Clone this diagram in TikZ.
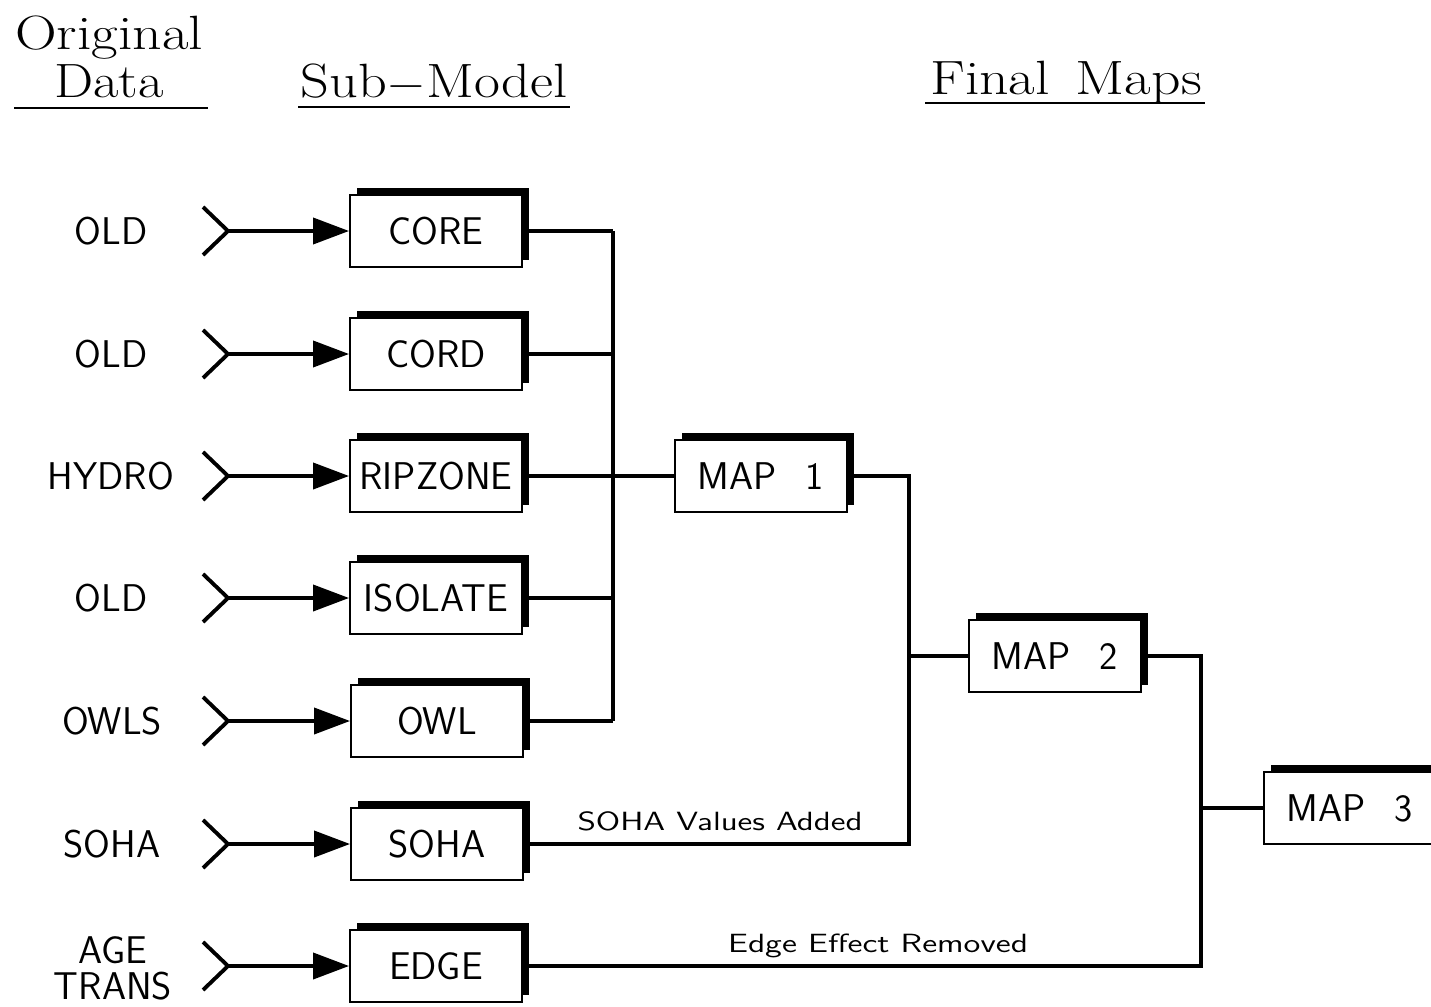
\documentclass[tikz,border=0pt]{standalone}
\usepackage{fontspec}
\usepackage{graphicx}
\usetikzlibrary{arrows.meta,shadows}
\newcommand\boxfont{\sffamily\fontsize{22}{20.4}\selectfont}
\newcommand\headfont{\rmfamily\fontsize{27.4}{27.2}\selectfont}
\newcommand\notefont{\sffamily\fontsize{15}{16}\selectfont}
% horizontally widened text for headings and connector notes
\newcommand\wide[2]{\scalebox{#1}[1]{#2}}
\begin{document}
\begin{tikzpicture}[x=0.02cm,y=-0.02cm,
  box/.style={draw=black, line width=1.1pt, fill=white,
    minimum width=3.44cm, minimum height=1.44cm, inner sep=0pt, font=\boxfont,
    drop shadow={shadow xshift=0.14cm, shadow yshift=0.14cm, fill=black, opacity=1}},
  conn/.style={line width=2.2pt},
  feed/.style={line width=2.2pt, -{Triangle[length=0.72cm,width=0.52cm]}},
  src/.style={font=\boxfont, align=center, inner sep=0pt},
  head/.style={font=\headfont, anchor=base, inner sep=0pt},
  note/.style={font=\notefont, anchor=base, inner sep=0pt},
  rule/.style={line width=1.1pt}]
\path[use as bounding box] (0,0) rectangle (1431,1007);
\clip (0,0) rectangle (1431,1007);

% column headings
\node[head] (horig) at (109,50) {\wide{1.2}{Original}};
\node[head] (hdata) at (109,98) {\wide{1.15}{Data}};
\node[head] (hsub) at (434,98) {\wide{1.17}{Sub$-$Model}};
\node[head] (hfinal) at (1066,95) {\wide{1.2}{Final\hspace{0.45em}Maps}};
\draw[rule] (14,108) -- (208,108);
\draw[rule] (298,107) -- (570,107);
\draw[rule] (925,103) -- (1205,103);

% source data labels
\node[src] (s1) at (111,231) {OLD};
\node[src] (s2) at (111,354) {OLD};
\node[src] (s3) at (111,476) {HYDRO};
\node[src] (s4) at (111,598) {OLD};
\node[src] (s5) at (112,721) {OWLS};
\node[src] (s6) at (112,844) {SOHA};
\node[src] (s7) at (113,968) {AGE\\TRANS};

% sub-model boxes
\node[box] (core) at (436,231) {CORE};
\node[box] (cord) at (436,354) {CORD};
\node[box] (rip)  at (436,476) {RIPZONE};
\node[box] (iso)  at (436,598) {ISOLATE};
\node[box] (owl)  at (437,721) {OWL};
\node[box] (soha) at (437,844) {SOHA};
\node[box] (edge) at (436,966) {EDGE};

% final map boxes
\node[box] (map1) at (761,476) {MAP\hspace{0.75em}1};
\node[box] (map2) at (1055,656) {MAP\hspace{0.75em}2};
\node[box] (map3) at (1350,808) {MAP\hspace{0.75em}3};

% input chevrons and feed arrows
\foreach \yy/\b in {231/core, 354/cord, 476/rip, 598/iso, 721/owl, 844/soha, 966/edge}{
  \coordinate (v\b) at (228,\yy);
  \draw[conn] (v\b) ++(-25,-24) -- (v\b) -- ++(-25,24);
  \draw[feed] (v\b) -- (\b.west);
}

% bus lines between stages
\coordinate (busA) at (613,0);
\coordinate (busB) at (909,0);
\coordinate (busC) at (1201,0);

\foreach \b in {core, cord, iso, owl}
  \draw[conn] (\b.east) -- (\b.east -| busA);
\draw[conn] (core.east -| busA) -- (owl.east -| busA);
\draw[conn] (rip.east) -- (map1.west);

\draw[conn] (map1.east) -- (map1.east -| busB) -- (soha.east -| busB) -- (soha.east);
\draw[conn] (map2.west) -- (map2.west -| busB);

\draw[conn] (map2.east) -- (map2.east -| busC) -- (edge.east -| busC) -- (edge.east);
\draw[conn] (map3.west) -- (map3.west -| busC);

% connector notes
\node[note] (nsoha) at (720,830) {\wide{1.28}{SOHA Values Added}};
\node[note] (nedge) at (878,952) {\wide{1.3}{Edge Effect Removed}};
\end{tikzpicture}
\end{document}
